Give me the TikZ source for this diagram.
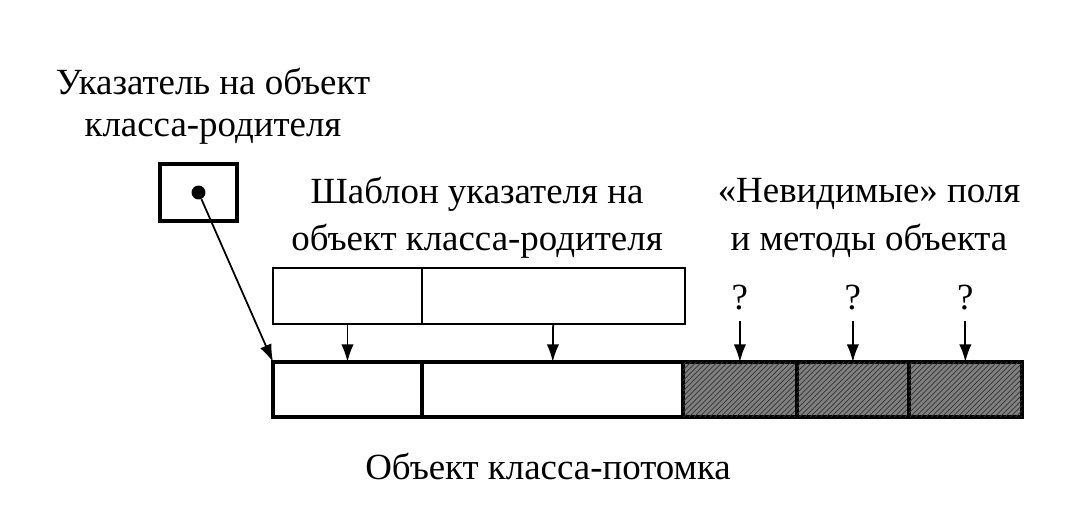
\documentclass[tikz,border=0pt]{standalone}
\usepackage{fontspec}
\setmainfont{Liberation Serif}
\usetikzlibrary{positioning,arrows.meta,patterns}

\begin{document}
\begin{tikzpicture}[x=0.02cm, y=-0.02cm,
                    cell/.style={rectangle, draw, line width=2pt, outer sep=0pt, minimum height=1.1cm},
                    tcell/.style={rectangle, draw, line width=1.1pt, outer sep=0pt, minimum height=1.12cm},
                    hidden/.style={cell, fill=black!50, postaction={pattern=north east lines, pattern color=black!80}},
                    label/.style={align=center, font=\fontsize{21}{27}\selectfont},
                    qmark/.style={font=\fontsize{21}{25}\selectfont, inner sep=6pt, outer sep=0pt},
                    >={Latex[length=10pt,width=7pt]}]
  \useasboundingbox (0,0) rectangle (1078,526);
  % pointer
  \node[rectangle, draw, line width=2pt, minimum width=1.54cm, minimum height=1.14cm] (ptr) at (198.5,192.5) {};
  \node[circle, fill, inner sep=2.8pt] (dot) at (ptr.center) {};
  \node[label, font=\fontsize{21}{24}\selectfont] (ptrlabel) at (213,106) {Указатель на объект\\класса-родителя};
  % template
  \node[tcell, minimum width=2.98cm, anchor=west] (ta) at (273,296) {};
  \node[tcell, minimum width=5.26cm, right=0pt of ta] (tb) {};
  \node[label] (tlabel) at (477,218) {Шаблон указателя на\\объект класса-родителя};
  % derived object
  \node[cell, minimum width=2.98cm, anchor=west] (a) at (273,389.5) {};
  \node[cell, minimum width=5.22cm, right=0pt of a] (b) {};
  \node[hidden, minimum width=2.28cm, right=0pt of b] (c) {};
  \node[hidden, minimum width=2.24cm, right=0pt of c] (d) {};
  \node[hidden, minimum width=2.26cm, right=0pt of d] (e) {};
  \node[label] (hlabel) at (869,218) {«Невидимые» поля\\и методы объекта};
  \node[label] (olabel) at (548,466) {Объект класса-потомка};
  \node[qmark, above=0.83cm of c] (qc) {?};
  \node[qmark, above=0.83cm of d] (qd) {?};
  \node[qmark, above=0.83cm of e] (qe) {?};
  \draw[->, line width=1pt] (dot) -- (a.north west);
  \draw[->, line width=1pt] (ta) -- (a);
  \draw[->, line width=1pt] (tb) -- (b);
  \foreach \q/\f in {qc/c, qd/d, qe/e}
    \draw[->, line width=1pt] (\q) -- (\f);
\end{tikzpicture}
\end{document}
